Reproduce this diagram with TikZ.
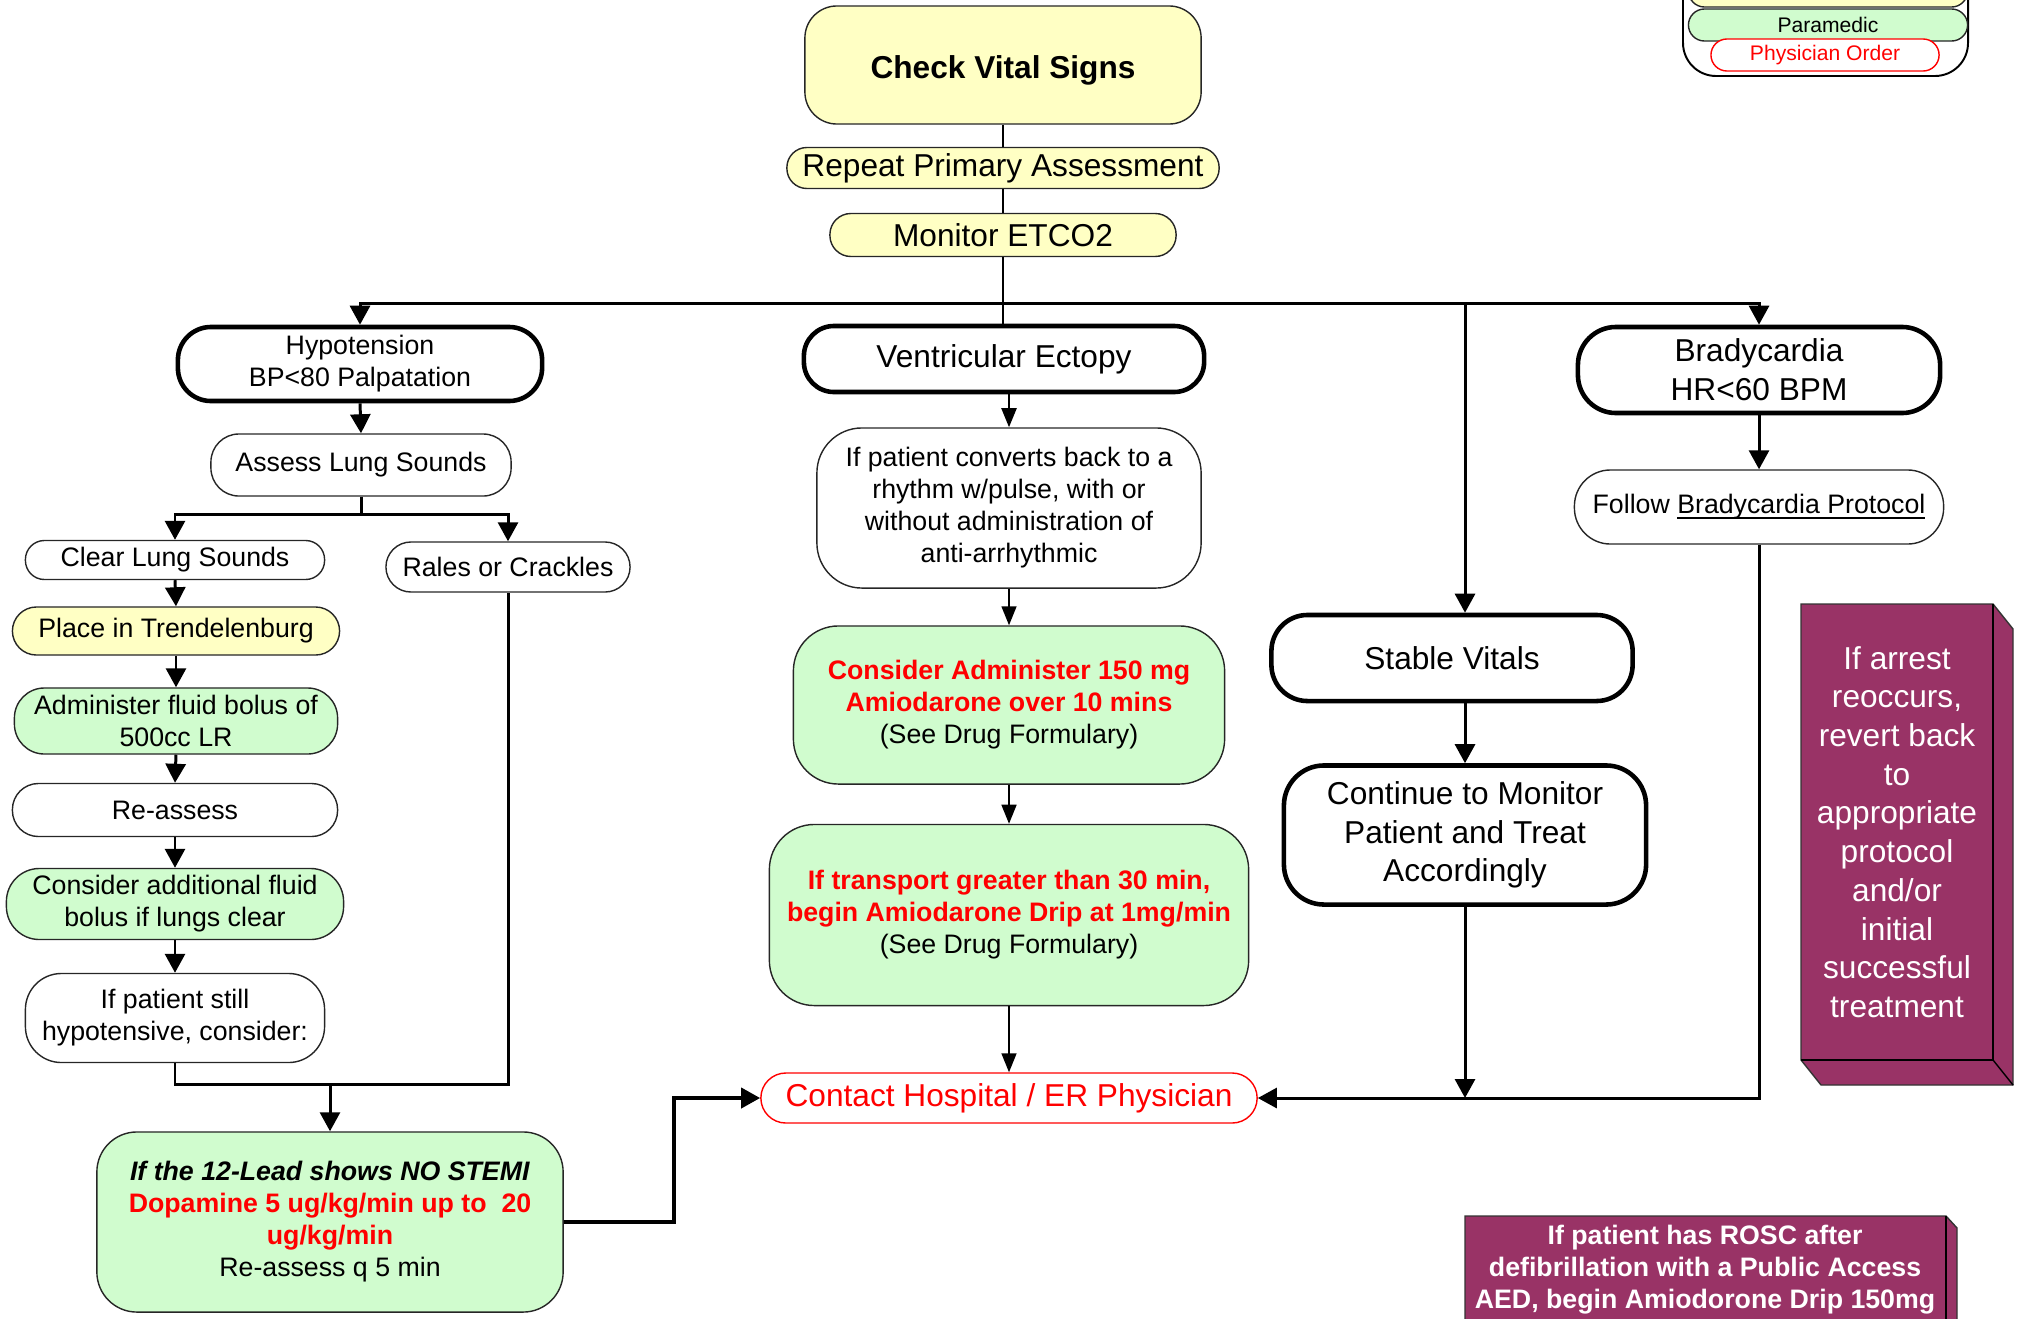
\documentclass[tikz,border=0pt]{standalone}
\usepackage{fontspec}
\setmainfont{Liberation Sans}
\usetikzlibrary{arrows.meta}

\definecolor{ylw}{RGB}{255,255,196}
\definecolor{grn}{RGB}{208,252,206}
\definecolor{plum}{RGB}{153,51,102}
\definecolor{ordred}{RGB}{255,0,0}

\newcommand{\flowtiny}{\fontsize{6}{7}\selectfont}
\newcommand{\flowsmall}{\fontsize{7.6}{9.1}\selectfont}
\newcommand{\flowbig}{\fontsize{9}{11}\selectfont}

\tikzset{
  box/.style={draw=black!85, line width=0.4pt, align=center, inner sep=0pt, font=\flowsmall},
  heavy/.style={draw=black, line width=1.3pt, align=center, inner sep=0pt, font=\flowbig},
  flow/.style={-{Triangle[length=0.19cm,width=0.2cm]}, line width=0.85pt},
  slim/.style={-{Triangle[length=0.19cm,width=0.15cm]}, line width=0.45pt},
  cube/.style={fill=plum, draw=black!80, line width=0.4pt}
}

\begin{document}
\begin{tikzpicture}[x=0.01cm,y=-0.01cm]
			\useasboundingbox (0,0) rectangle (2019,1318);

			% Legend
			\draw[line width=0.55pt, rounded corners=0.33cm] (1683,-60) rectangle (1968,76);
			\node[box, fill=ylw, minimum width=2.79cm, minimum height=0.32cm, rounded corners=0.16cm] (lgbasic) at (1828,-9) {};
			\node[box, fill=grn, font=\flowtiny, minimum width=2.79cm, minimum height=0.32cm, rounded corners=0.16cm] (lgpara) at (1828,25) {Paramedic};
			\node[box, draw=ordred, fill=white, text=ordred, font=\flowtiny, minimum width=2.28cm, minimum height=0.32cm, rounded corners=0.16cm] (lgphys) at (1825,55) {Physician Order};

			% Top of the chart
			\node[box, fill=ylw, font=\flowbig\bfseries, minimum width=3.96cm, minimum height=1.18cm, rounded corners=0.32cm] (check) at (1003,65) {\raisebox{0pt}[0.27cm][0pt]{Check Vital Signs}};
			\node[box, fill=ylw, font=\flowbig, minimum width=4.32cm, minimum height=0.41cm, rounded corners=0.2cm] (repeat) at (1003,168) {Repeat Primary Assessment};
			\node[box, fill=ylw, font=\flowbig, minimum width=3.46cm, minimum height=0.43cm, rounded corners=0.21cm] (monitor) at (1003,235) {Monitor ETCO2};

			% Branch heads
			\node[heavy, font=\flowsmall, minimum width=3.64cm, minimum height=0.74cm, rounded corners=0.33cm] (hypo) at (360,364) {Hypotension\\BP<80 Palpatation};
			\node[heavy, minimum width=4cm, minimum height=0.66cm, rounded corners=0.3cm] (ve) at (1004,359) {Ventricular Ectopy};
			\node[heavy, minimum width=3.62cm, minimum height=0.86cm, rounded corners=0.38cm] (brady) at (1759,370) {Bradycardia\\HR<60 BPM};
			\node[heavy, minimum width=3.61cm, minimum height=0.86cm, rounded corners=0.36cm] (stable) at (1452,658) {Stable Vitals};
			\node[heavy, minimum width=3.62cm, minimum height=1.39cm, rounded corners=0.4cm] (cont) at (1465,835) {Continue to Monitor\\Patient and Treat\\Accordingly};

			% Hypotension column
			\node[box, minimum width=3cm, minimum height=0.62cm, rounded corners=0.28cm] (assess) at (361,465) {Assess Lung Sounds};
			\node[box, minimum width=2.99cm, minimum height=0.39cm, rounded corners=0.19cm] (clear) at (175,560) {Clear Lung Sounds};
			\node[box, minimum width=2.44cm, minimum height=0.5cm, rounded corners=0.25cm] (rales) at (508,567) {Rales or Crackles};
			\node[box, fill=ylw, minimum width=3.27cm, minimum height=0.48cm, rounded corners=0.24cm] (place) at (176,631) {Place in Trendelenburg};
			\node[box, fill=grn, minimum width=3.23cm, minimum height=0.66cm, rounded corners=0.3cm] (bolus) at (176,721) {Administer fluid bolus of\\500cc LR};
			\node[box, minimum width=3.25cm, minimum height=0.53cm, rounded corners=0.26cm] (reassess) at (175,810) {Re-assess};
			\node[box, fill=grn, minimum width=3.37cm, minimum height=0.71cm, rounded corners=0.33cm] (addfluid) at (175,904) {Consider additional fluid\\bolus if lungs clear};
			\node[box, minimum width=2.99cm, minimum height=0.89cm, rounded corners=0.36cm] (still) at (175,1018) {If patient still\\hypotensive, consider:};
			\node[box, fill=grn, minimum width=4.66cm, minimum height=1.8cm, rounded corners=0.4cm] (dopa) at (330,1222) {\textbf{\textit{If the 12-Lead shows NO STEMI}}\\\textcolor{ordred}{\textbf{Dopamine 5 ug/kg/min up to\ \ 20}}\\\textcolor{ordred}{\textbf{ug/kg/min}}\\Re-assess q 5 min};

			% Ectopy column
			\node[box, minimum width=3.84cm, minimum height=1.6cm, rounded corners=0.45cm] (conv) at (1009,508) {If patient converts back to a\\rhythm w/pulse, with or\\without administration of\\anti-arrhythmic};
			\node[box, fill=grn, minimum width=4.31cm, minimum height=1.58cm, rounded corners=0.45cm] (amio) at (1009,705) {\textcolor{ordred}{\textbf{Consider Administer 150 mg}}\\\textcolor{ordred}{\textbf{Amiodarone over 10 mins}}\\(See Drug Formulary)};
			\node[box, fill=grn, minimum width=4.79cm, minimum height=1.81cm, rounded corners=0.45cm] (drip) at (1009,915) {\textcolor{ordred}{\textbf{If transport greater than 30 min,}}\\\textcolor{ordred}{\textbf{begin Amiodarone Drip at 1mg/min}}\\(See Drug Formulary)};
			\node[box, draw=ordred, text=ordred, font=\flowbig, minimum width=4.96cm, minimum height=0.5cm, rounded corners=0.25cm] (contact) at (1009,1098) {Contact Hospital / ER Physician};

			% Bradycardia column
			\node[box, minimum width=3.69cm, minimum height=0.74cm, rounded corners=0.36cm] (follow) at (1759,507) {Follow \underline{\smash{Bradycardia Protocol}}\vphantom{y}};

			% Draw trunk and bus
			\coordinate (bus) at (1003,303);
			\draw[line width=0.7pt] (check) -- (repeat);
			\draw[line width=0.7pt] (repeat) -- (monitor);
			\draw[line width=0.7pt] (monitor.south) -- (monitor.south |- ve.north);
			\draw[flow] (bus) -| (hypo.north);
			\draw[flow] (bus) -| (brady.north);
			\draw[flow] (bus -| cont.north) -- (cont.north |- stable.north);

			% Draw left column arrows
			\coordinate (split) at (361,514);
			\coordinate (join) at (330,1084);
			\coordinate (bend) at (674,1098);
			\draw[flow] (hypo.south) -- (assess.north);
			\draw[line width=0.85pt] (assess.south) -- (split);
			\draw[flow] (split) -| (clear.north);
			\draw[flow] (split) -| (rales.north);
			\foreach \a/\b in {clear/place,place/bolus,bolus/reassess,reassess/addfluid,addfluid/still} {
				\draw[flow] (\a.south) -- (\b.north);
			}
			\draw[line width=0.85pt] (still.south) |- (join) -| (rales.south);
			\draw[flow] (join) -- (dopa.north);
			\draw[flow, line width=1.1pt] (dopa.east) -| (bend) -- (contact.west);

			% Draw center column arrows
			\draw[slim, line width=0.6pt] (ve.south -| conv.north) -- (conv.north);
			\foreach \a/\b in {conv/amio,amio/drip,drip/contact} {
				\draw[slim] (\a) -- (\b);
			}

			% Draw right column arrows
			\draw[flow] (stable.south -| cont.north) -- (cont.north);
			\draw[flow] (brady) -- (follow);
			\draw[flow] (follow.south) |- (contact.east);
			\draw[flow] (cont.south) -- (cont.south |- contact.east);

			% Draw purple blocks
			\draw[cube] (1801,604) -- (1993,604) -- (2013,629) -- (2013,1085) -- (1821,1085) -- (1801,1060) -- cycle;
			\draw[line width=0.4pt] (1801,1060) -- (1993,1060) -- (1993,604);
			\draw[line width=0.4pt] (1993,1060) -- (2013,1085);
			\node[text=white, align=center, font=\flowbig] (arrest) at (1897,832) {If arrest\\reoccurs,\\revert back\\to\\appropriate\\protocol\\and/or\\initial\\successful\\treatment};

			\draw[cube] (1465,1216) -- (1946,1216) -- (1957,1228) -- (1957,1380) -- (1465,1380) -- cycle;
			\draw[line width=0.4pt] (1946,1216) -- (1946,1380);
			\node[text=white, align=center, font=\flowsmall\bfseries] (rosc) at (1705,1270) {If patient has ROSC after\\defibrillation with a Public Access\\AED, begin Amiodorone Drip 150mg};
		\end{tikzpicture}
\end{document}
